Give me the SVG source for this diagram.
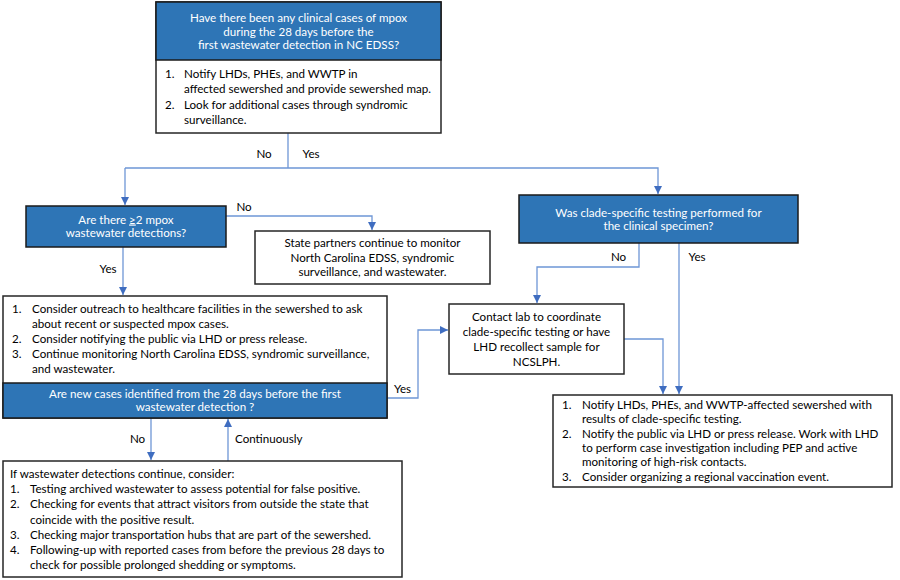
<svg xmlns="http://www.w3.org/2000/svg" width="900" height="580" viewBox="0 0 900 580">
<defs>
<style>
text{font-family:Lato,"Liberation Sans",sans-serif;font-size:11.6px;fill:#000}
.w{fill:#fff}
.c{text-anchor:middle}
.box{fill:#fff;stroke:#262626;stroke-width:1.5}
.hdr{fill:#2E75B6;stroke:#1a1a1a;stroke-width:1.5}
.ln{fill:none;stroke:#6E96D6;stroke-width:1.3}
</style>
<marker id="ah" viewBox="0 0 10 10" refX="10" refY="5" markerWidth="8" markerHeight="8" markerUnits="userSpaceOnUse" orient="auto">
<path d="M0,0 L10,5 L0,10 z" fill="#3F6DC0"/>
</marker>
</defs>
<rect width="900" height="580" fill="#fff"/>

<g id="connectors">
<polyline class="ln" points="288,133 288,168"/>
<polyline class="ln" points="125,168 658,168 658,194" marker-end="url(#ah)"/>
<polyline class="ln" points="125,168 125,205" marker-end="url(#ah)"/>
<polyline class="ln" points="226,216 372,216 372,230" marker-end="url(#ah)"/>
<polyline class="ln" points="123,247 123,295" marker-end="url(#ah)"/>
<polyline class="ln" points="387,398 418,398 418,330 448,330" marker-end="url(#ah)"/>
<polyline class="ln" points="151,418 151,460" marker-end="url(#ah)"/>
<polyline class="ln" points="228,461 228,419" marker-end="url(#ah)"/>
<polyline class="ln" points="639,243 639,267 537,267 537,303" marker-end="url(#ah)"/>
<polyline class="ln" points="679,243 679,394" marker-end="url(#ah)"/>
<polyline class="ln" points="624,339 663,339 663,394" marker-end="url(#ah)"/>
<text x="264" y="158" class="c">No</text>
<text x="311" y="158" class="c">Yes</text>
<text x="244" y="211" class="c">No</text>
<text x="108" y="273" class="c">Yes</text>
<text x="402.5" y="393" class="c">Yes</text>
<text x="137.5" y="442.5" class="c">No</text>
<text x="235" y="442.5">Continuously</text>
<text x="618.5" y="260.5" class="c">No</text>
<text x="697" y="260.5" class="c">Yes</text>
</g>

<g id="top">
<rect class="box" x="156" y="2" width="285" height="131"/>
<rect class="hdr" x="156" y="2" width="285" height="58"/>
<text class="w c" x="298.5" y="21.5">Have there been any clinical cases of mpox</text>
<text class="w c" x="298.5" y="35.5">during the 28 days before the</text>
<text class="w c" x="298.5" y="48.5">first wastewater detection in NC EDSS?</text>
<text x="165" y="77.5">1.</text>
<text x="184" y="77.5">Notify LHDs, PHEs, and WWTP in</text>
<text x="184" y="93">affected sewershed and provide sewershed map.</text>
<text x="165" y="109">2.</text>
<text x="184" y="109">Look for additional cases through syndromic</text>
<text x="184" y="124">surveillance.</text>
</g>

<g id="q2">
<rect class="hdr" x="26" y="206" width="200" height="41"/>
<text class="w c" x="126" y="223.5">Are there <tspan text-decoration="underline">≥</tspan>2 mpox</text>
<text class="w c" x="126" y="237">wastewater detections?</text>
</g>

<g id="monitor">
<rect class="box" x="255" y="231" width="235" height="53"/>
<text class="c" x="372.5" y="246.5">State partners continue to monitor</text>
<text class="c" x="372.5" y="262">North Carolina EDSS, syndromic</text>
<text class="c" x="372.5" y="275.5">surveillance, and wastewater.</text>
</g>

<g id="outreach">
<rect class="box" x="3" y="296" width="384" height="122"/>
<rect class="hdr" x="3" y="383" width="384" height="35"/>
<text x="12" y="312.5">1.</text>
<text x="32" y="312.5">Consider outreach to healthcare facilities in the sewershed to ask</text>
<text x="32" y="327.5">about recent or suspected mpox cases.</text>
<text x="12" y="343">2.</text>
<text x="32" y="343">Consider notifying the public via LHD or press release.</text>
<text x="12" y="358">3.</text>
<text x="32" y="358">Continue monitoring North Carolina EDSS, syndromic surveillance,</text>
<text x="32" y="373">and wastewater.</text>
<text class="w c" x="195" y="397.5">Are new cases identified from the 28 days before the first</text>
<text class="w c" x="195" y="411">wastewater detection ?</text>
</g>

<g id="consider">
<rect class="box" x="3" y="461" width="399" height="116"/>
<text x="10" y="477.5">If wastewater detections continue, consider:</text>
<text x="10" y="492.5">1.</text>
<text x="30" y="492.5">Testing archived wastewater to assess potential for false positive.</text>
<text x="10" y="508">2.</text>
<text x="30" y="508">Checking for events that attract visitors from outside the state that</text>
<text x="30" y="523.5">coincide with the positive result.</text>
<text x="10" y="538.5">3.</text>
<text x="30" y="538.5">Checking major transportation hubs that are part of the sewershed.</text>
<text x="10" y="554">4.</text>
<text x="30" y="554">Following-up with reported cases from before the previous 28 days to</text>
<text x="30" y="569">check for possible prolonged shedding or symptoms.</text>
</g>

<g id="clade">
<rect class="hdr" x="519" y="195" width="279" height="48"/>
<text class="w c" x="658.5" y="216.5">Was clade-specific testing performed for</text>
<text class="w c" x="658.5" y="230">the clinical specimen?</text>
</g>

<g id="contact">
<rect class="box" x="449" y="304" width="175" height="70"/>
<text class="c" x="536.5" y="320.5">Contact lab to coordinate</text>
<text class="c" x="536.5" y="335.5">clade-specific testing or have</text>
<text class="c" x="536.5" y="350.5">LHD recollect sample for</text>
<text class="c" x="536.5" y="365.5">NCSLPH.</text>
</g>

<g id="notify">
<rect class="box" x="553" y="395" width="339" height="92"/>
<text x="562" y="408.5">1.</text>
<text x="582" y="408.5">Notify LHDs, PHEs, and WWTP-affected sewershed with</text>
<text x="582" y="423">results of clade-specific testing.</text>
<text x="562" y="437.5">2.</text>
<text x="582" y="437.5">Notify the public via LHD or press release. Work with LHD</text>
<text x="582" y="452">to perform case investigation including PEP and active</text>
<text x="582" y="466">monitoring of high-risk contacts.</text>
<text x="562" y="480.5">3.</text>
<text x="582" y="480.5">Consider organizing a regional vaccination event.</text>
</g>
</svg>
